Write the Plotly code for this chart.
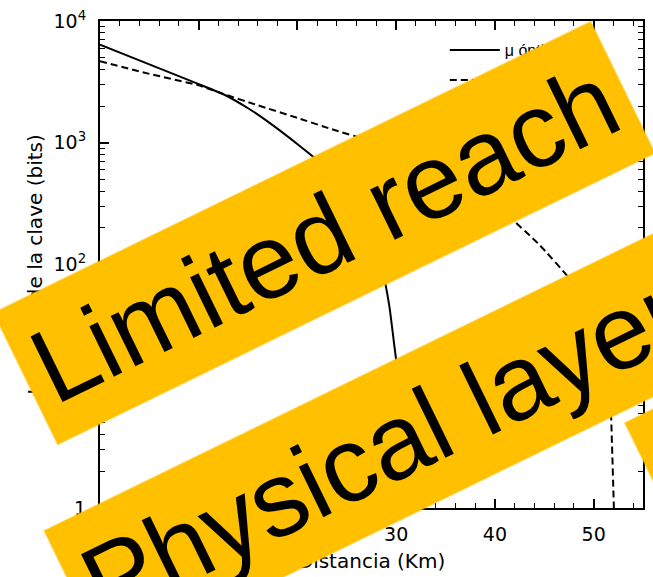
import plotly.graph_objects as go

# Key length versus fibre distance for the two intensity settings
distance_opt = [0, 5, 10, 12.6, 15, 17, 20.2, 22.4, 24, 26, 27.5, 28.6, 29.3, 29.8, 30.1, 30.3, 30.45, 30.55, 30.6]
key_opt = [6400, 4400, 3030, 2480, 1920, 1490, 946, 676, 500, 290, 158, 89, 46, 22, 14, 9, 4.5, 2, 1]

distance_fix = [0, 5, 10, 12.6, 16, 20, 23.5, 27.3, 31, 34.5, 38, 41.2, 44.4, 47.7, 49.5, 50.8, 51.5, 51.7, 51.9, 52.0, 52.05]
key_fix = [4670, 3680, 2960, 2500, 2030, 1600, 1290, 1040, 795, 590, 410, 257, 148, 74, 42, 20, 10, 7.6, 2.6, 1.4, 1]

series_names = ["μ óptimo", "μ fijo"]

x_ticks = [0, 10, 20, 30, 40, 50]
y_ticks = [1, 10, 100, 1000, 10000]
y_tick_text = ["1", "10", "10<sup>2</sup>", "10<sup>3</sup>", "10<sup>4</sup>"]

banner_texts = ["Limited reach", "Physical layer", "Fibre losses"]

BANNER_FONT = "Liberation Sans, Arial, Helvetica, sans-serif"
AXIS_FONT = "DejaVu Sans, Liberation Sans, sans-serif"
BAND = "#FFC000"

fig = go.Figure()
fig.add_trace(go.Scatter(
    x=distance_opt, y=key_opt, mode="lines", name=series_names[0],
    legendgroup="a", line=dict(color="black", width=2, shape="spline", smoothing=0.5),
))
fig.add_trace(go.Scatter(
    x=distance_fix, y=key_fix, mode="lines", name=series_names[1],
    legendgroup="b", line=dict(color="black", width=2, dash="7px,4px", shape="spline", smoothing=0.5),
))

# plot area in pixels: x 100..645, y 13..508
L, R, T, B = 100, 645, 13, 508


def px_to_paper(px, py):
    return (px - L) / (R - L), (B - py) / (B - T)


def banner(text, cx, cy, angle, size=106, pad=13):
    x, y = px_to_paper(cx, cy)
    return dict(
        text=text, x=x, y=y, xref="paper", yref="paper", showarrow=False,
        xanchor="center", yanchor="middle", textangle=angle,
        font=dict(family=BANNER_FONT, size=size, color="black"),
        bgcolor=BAND, borderpad=pad,
        # translucent rim softens the band edges
        bordercolor="rgba(255,192,0,0.55)", borderwidth=2,
    )


annotations = [
    banner(banner_texts[0], 325, 228, -26),
    banner(banner_texts[1], 384, 446, -26),
    banner(banner_texts[2], 930, 355, -26),
]

axis_common = dict(
    showline=True, linecolor="black", linewidth=2, mirror="allticks",
    ticks="inside", ticklen=9, tickwidth=1.5, tickcolor="black",
    showgrid=False, zeroline=False, ticklabeloverflow="allow",
    tickfont=dict(family=AXIS_FONT, size=19, color="black"),
)

fig.update_layout(
    width=653, height=577,
    margin=dict(l=L, r=653 - R, t=T, b=577 - B),
    paper_bgcolor="white", plot_bgcolor="white",
    font=dict(family=AXIS_FONT, color="black"),
    xaxis=dict(
        range=[0, 55], tickvals=x_ticks, ticklabelstandoff=8,
        minor=dict(dtick=2, ticks="inside", ticklen=5, tickwidth=1.2, tickcolor="black"),
        title=dict(text="Distancia (Km)", font=dict(family=AXIS_FONT, size=20), standoff=10),
        **axis_common,
    ),
    yaxis=dict(
        type="log", range=[0, 4], tickvals=y_ticks, ticktext=y_tick_text, ticklabelstandoff=8,
        minor=dict(ticks="inside", ticklen=5, tickwidth=1.2, tickcolor="black", dtick="D1"),
        title=dict(text="Longitud de la clave (bits)", font=dict(family=AXIS_FONT, size=20), standoff=6),
        **axis_common,
    ),
    showlegend=True,
    legend=dict(
        x=0.635, y=0.975, xanchor="left", yanchor="top",
        bgcolor="rgba(0,0,0,0)", font=dict(family=BANNER_FONT, size=16),
        itemwidth=50, tracegroupgap=6,
    ),
    annotations=annotations,
)

fig.write_html("out.html")
